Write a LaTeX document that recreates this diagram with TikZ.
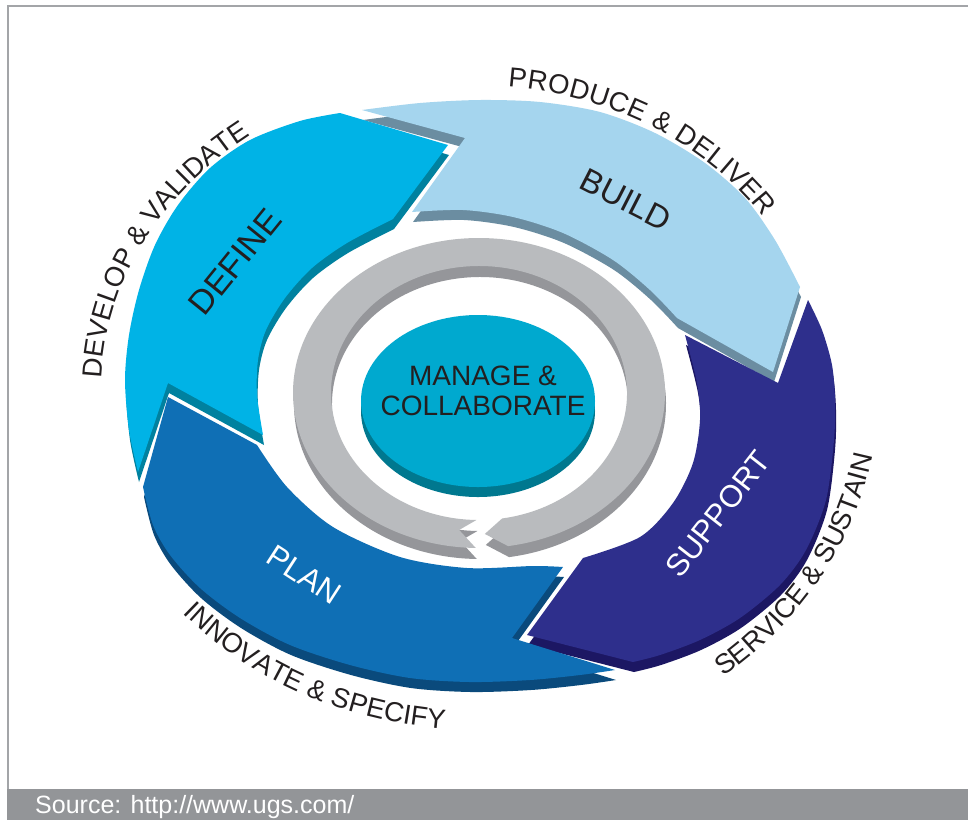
\documentclass[tikz,border=0pt]{standalone}
\usepackage{fontspec}
\setmainfont{Liberation Sans}
\usetikzlibrary{decorations.text}
\definecolor{txt}{HTML}{231F20}
\definecolor{framegray}{HTML}{A3A5A8}
\definecolor{footgray}{HTML}{939598}
\definecolor{deftop}{HTML}{00B3E6}
\definecolor{defside}{HTML}{00819F}
\definecolor{bldtop}{HTML}{A5D5EE}
\definecolor{bldside}{HTML}{6B8DA1}
\definecolor{suptop}{HTML}{2E2F8C}
\definecolor{supside}{HTML}{1C1763}
\definecolor{plntop}{HTML}{0F6FB5}
\definecolor{plnside}{HTML}{0A4A7C}
\definecolor{ringtop}{HTML}{B9BBBE}
\definecolor{ringside}{HTML}{95969A}
\definecolor{ctrtop}{HTML}{00A9CF}
\definecolor{ctrside}{HTML}{00788F}
\newcommand\outerfont{\fontsize{27.5}{27.5}\selectfont}
\def\BuildPath{plot[smooth] coordinates {(362,-110) (420,-103) (480,-100) (540,-102) (600,-112) (655,-133) (705,-163) (745,-198) (775,-240) (800,-287)} -- (773,-372) -- plot[smooth] coordinates {(677,-318) (650,-290) (613,-260) (563,-233) (513,-217) (463,-210) (412,-212)} -- (465,-138) -- cycle}
\def\DefinePath{plot[smooth] coordinates {(138,-472) (129,-430) (125,-380) (129,-335) (139,-290) (155,-245) (178,-205) (210,-168) (250,-140) (300,-121) (340,-113)} -- (448,-145) -- plot[smooth] coordinates {(393,-219) (347,-243) (312,-268) (285,-298) (266,-330) (258,-360) (257,-395) (263,-435)} -- (168,-383) -- cycle}
\def\SupportPath{plot[smooth] coordinates {(808,-300) (822,-330) (832,-365) (835,-400) (834,-440) (826,-500) (806,-550) (780,-585) (740,-618) (700,-640) (660,-655) (633,-662)} -- (527,-635) -- plot[smooth] coordinates {(583,-558) (640,-537) (673,-503) (693,-463) (700,-420) (697,-383) (685,-335)} -- (778,-383) -- cycle}
\def\PlanPath{plot[smooth] coordinates {(615,-670) (580,-675) (530,-680) (470,-682) (410,-678) (350,-665) (290,-645) (240,-618) (200,-588) (170,-555) (153,-525) (143,-487)} -- (168,-397) -- plot[smooth] coordinates {(257,-445) (287,-487) (333,-527) (400,-557) (467,-568) (533,-566) (563,-567)} -- (512,-638) -- cycle}
\def\RingPath{(269:186 and 155) arc[start angle=269, end angle=-81, x radius=186, y radius=155] -- (-88:167 and 141) -- (-81:148 and 127) arc[start angle=-81, end angle=269, x radius=148, y radius=127] -- (263:163 and 138) -- cycle}
\tikzset{
  seglabel/.style={inner sep=0pt, font=\fontsize{33}{33}\selectfont},
  sidelift/.style={shift={(1,-10)}},
  curvedlabel/.style={decorate, decoration={text along path, text color=txt, text align=fit to path, text={|\outerfont|#1}}}
}
\begin{document}
\begin{tikzpicture}[x=1pt,y=1pt]
\useasboundingbox (0,0) rectangle (968,-820);
\fill[white] (0,0) rectangle (968,-820);
\draw[framegray, line width=2pt] (8,-789) -- (8,-6) -- (968,-6);
\fill[footgray] (7,-789) rectangle (968,-820);
\node[anchor=base west, inner sep=0pt, text=white, font=\fontsize{25}{25}\selectfont] (src) at (35,-813) {Source: http://www.ugs.com/};
% outer ring segments (back to front)
\fill[bldside, sidelift] \BuildPath;
\fill[bldtop] \BuildPath;
\fill[defside, sidelift] \DefinePath;
\fill[deftop] \DefinePath;
\fill[supside, sidelift] \SupportPath;
\fill[suptop] \SupportPath;
\fill[plnside, sidelift] \PlanPath;
\fill[plntop] \PlanPath;
% grey ring
\begin{scope}[shift={(480,-404)}]
  \fill[ringside] \RingPath;
\end{scope}
\begin{scope}[shift={(479,-393)}]
  \fill[ringtop] \RingPath;
\end{scope}
% centre disk
\fill[ctrside] (478,-411) ellipse [x radius=117, y radius=86];
\fill[ctrside] (361,-401) rectangle (595,-411);
\fill[ctrtop] (478,-401) ellipse [x radius=117, y radius=86];
\node[align=center, text=txt, inner sep=0pt, font=\fontsize{28}{30}\selectfont] (manage) at (483,-391) {MANAGE \&\\COLLABORATE};
% segment labels
\node[seglabel, text=txt, rotate=51, font=\fontsize{34}{34}\selectfont] (define) at (235,-262) {DEFINE};
\node[seglabel, text=txt, rotate=-27] (build) at (626,-200) {BUILD};
\node[seglabel, text=white, rotate=52, font=\fontsize{31}{31}\selectfont] (support) at (718,-514) {SUPPORT};
\node[seglabel, text=white, rotate=-33, font=\fontsize{31}{31}\selectfont] (plan) at (304,-575) {PLAN};
% curved outer labels
\begin{scope}[shift={(479,-390)}]
  \path[curvedlabel={DEVELOP {\&} VALIDATE}] (177.9:378 and 320) arc[start angle=177.9, end angle=127.3, x radius=378, y radius=320];
  \path[curvedlabel={PRODUCE {\&} DELIVER}] (85.2:346 and 304) arc[start angle=85.2, end angle=34.7, x radius=346, y radius=304];
  \path[curvedlabel={SERVICE {\&} SUSTAIN}] (-52.4:400 and 362) arc[start angle=-52.4, end angle=-10.8, x radius=400, y radius=362];
  \path[curvedlabel={INNOVATE {\&} SPECIFY}] (-138.9:393 and 340) arc[start angle=-138.9, end angle=-95.7, x radius=393, y radius=340];
\end{scope}
\end{tikzpicture}
\end{document}
